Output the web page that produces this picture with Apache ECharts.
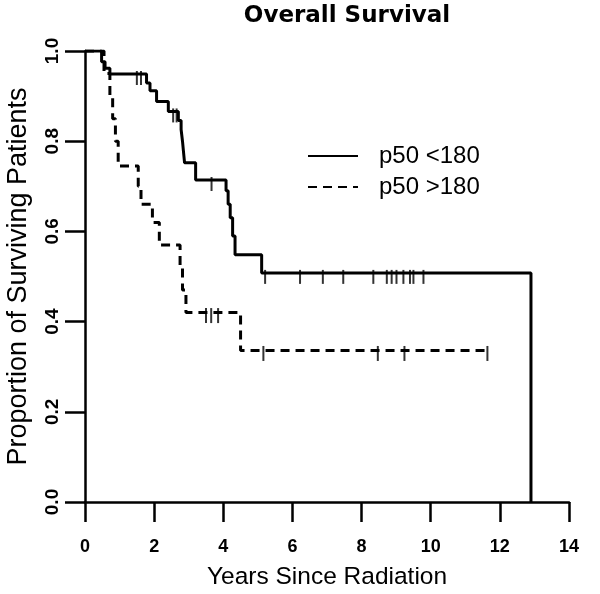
<!DOCTYPE html>
<html>
<head>
<meta charset="utf-8">
<script src="https://cdn.jsdelivr.net/npm/echarts@6/dist/echarts.min.js"></script>
<style>html,body{margin:0;padding:0;background:#fff}#c{width:600px;height:594px}</style>
</head>
<body>
<div id="c"></div>
<script>
// Kaplan-Meier step data: [time (years), survival after event]
const solidEvents = [
  [0, 1.0], [0.48, 0.976], [0.58, 0.962], [0.72, 0.949], [1.78, 0.929], [1.88, 0.912],
  [2.07, 0.888], [2.41, 0.866], [2.70, 0.846], [2.78, 0.826], [2.82, 0.80], [2.85, 0.776],
  [2.88, 0.752], [3.20, 0.714], [4.08, 0.69], [4.14, 0.66], [4.20, 0.63], [4.27, 0.59],
  [4.34, 0.548], [5.11, 0.508], [12.9, 0.0]
];
const solidCensor = [1.50, 1.62, 2.55, 2.65, 3.66, 5.21, 6.22, 6.88, 7.47, 8.34, 8.73, 8.87, 9.01, 9.21, 9.40, 9.50, 9.79];

const dashedEvents = [
  [0, 1.0], [0.55, 0.95], [0.72, 0.90], [0.80, 0.85], [0.88, 0.80], [0.96, 0.745],
  [1.54, 0.70], [1.62, 0.66], [1.95, 0.62], [2.15, 0.57], [2.75, 0.52], [2.82, 0.47],
  [2.92, 0.42], [4.50, 0.336], [11.64, 0.336]
];
const dashedCensor = [3.50, 3.65, 3.85, 5.16, 8.47, 9.24, 11.64];

const seriesNames = ['p50 <180', 'p50 >180'];
const xTicks = [0, 14, 2];
const yTicks = [0, 1, 0.2];

function survAt(events, t) {
  let s = 1;
  for (const [et, es] of events) { if (et <= t) s = es; }
  return s;
}
const solidCensorPts = solidCensor.map(t => [t, survAt(solidEvents, t)]);
const dashedCensorPts = dashedCensor.map(t => [t, survAt(dashedEvents, t)]);

const chart = echarts.init(document.getElementById('c'), null, {renderer: 'canvas'});
const axisCol = '#000';
chart.setOption({
  animation: false,
  backgroundColor: '#fff',
  title: {
    text: 'Overall Survival', left: 342, top: 0, textAlign: 'center',
    textStyle: {fontFamily: 'DejaVu Sans', fontWeight: 'bold', fontSize: 23, color: '#000'}
  },
  legend: {
    left: 302, top: 139, orient: 'vertical',
    itemWidth: 50, itemHeight: 14, itemGap: 7,
    data: seriesNames,
    itemStyle: {opacity: 0},
    textStyle: {fontFamily: 'Liberation Sans', fontSize: 24, color: '#000', padding: [0, 0, 0, 16]}
  },
  grid: {left: 85, right: 31, top: 51, bottom: 92, containLabel: false, outerBoundsMode: 'none'},
  xAxis: {
    type: 'value', min: xTicks[0], max: xTicks[1], interval: xTicks[2],
    name: 'Years Since Radiation', nameLocation: 'middle', nameGap: 63,
    nameTextStyle: {fontFamily: 'Liberation Sans', fontSize: 24.5, color: '#000'},
    axisLine: {show: true, onZero: false, lineStyle: {color: axisCol, width: 2.5}},
    axisTick: {show: true, length: 20, lineStyle: {color: axisCol, width: 2.5}},
    axisLabel: {margin: 36, fontFamily: 'Liberation Sans', fontWeight: 'bold', fontSize: 18, color: '#000'},
    splitLine: {show: false}
  },
  yAxis: {
    type: 'value', min: yTicks[0], max: yTicks[1], interval: yTicks[2],
    name: 'Proportion of Surviving Patients', nameLocation: 'middle', nameGap: 53,
    nameTextStyle: {fontFamily: 'Liberation Sans', fontSize: 27, color: '#000'},
    axisLine: {show: true, onZero: false, lineStyle: {color: axisCol, width: 2.5}},
    axisTick: {show: true, length: 20, lineStyle: {color: axisCol, width: 2.5}},
    axisLabel: {margin: 23, rotate: 90, fontFamily: 'Liberation Sans', fontWeight: 'bold', fontSize: 19, color: '#000',
      formatter: v => v.toFixed(1)},
    splitLine: {show: false}
  },
  series: [
    {
      name: seriesNames[0], type: 'line', step: 'end', data: solidEvents,
      symbol: 'none', showSymbol: false, color: '#000',
      lineStyle: {color: '#000', width: 3, type: 'solid'}, z: 3
    },
    {
      name: seriesNames[1], type: 'line', step: 'end', data: dashedEvents,
      symbol: 'none', showSymbol: false, color: '#000',
      lineStyle: {color: '#000', width: 3, type: [9, 6]}, z: 3
    },
    {
      name: 'censorSolid', type: 'scatter', data: solidCensorPts,
      symbol: 'rect', symbolSize: [2, 14], symbolOffset: [0, 4],
      itemStyle: {color: '#000'}, z: 4
    },
    {
      name: 'censorDashed', type: 'scatter', data: dashedCensorPts,
      symbol: 'rect', symbolSize: [2, 15], symbolOffset: [0, 3],
      itemStyle: {color: '#000'}, z: 4
    }
  ]
});
</script>
</body>
</html>
